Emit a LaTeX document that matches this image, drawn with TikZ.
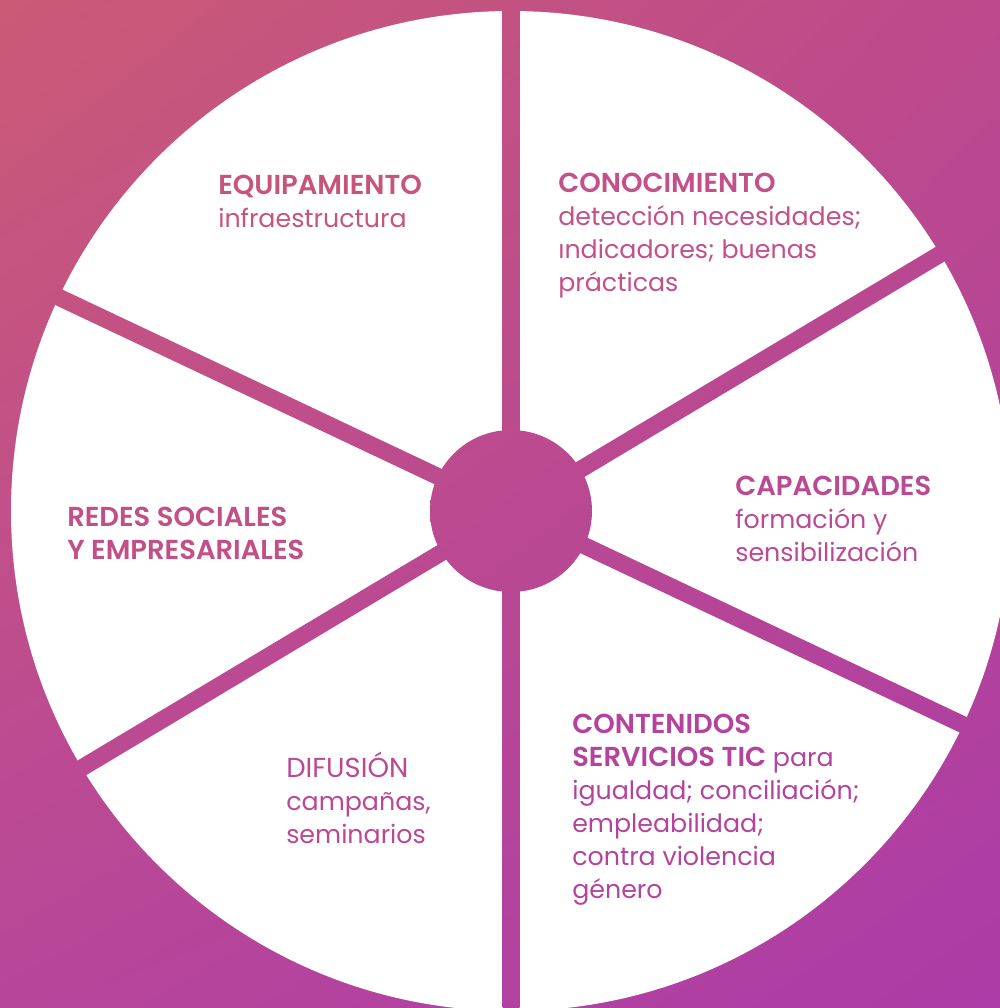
\documentclass[tikz,border=0pt]{standalone}
\usepackage{fontspec}
\setmainfont{Poppins}[BoldFont={* SemiBold}]
\usetikzlibrary{shadings}
\definecolor{bgtl}{HTML}{CB5A76}
\definecolor{bgtr}{HTML}{BC4A8C}
\definecolor{bgbl}{HTML}{B7469A}
\definecolor{bgbr}{HTML}{AC3CA7}
\definecolor{txtequip}{HTML}{C75579}
\definecolor{txtconoc}{HTML}{C4508A}
\definecolor{txtcapac}{HTML}{BA4A94}
\definecolor{txtredes}{HTML}{C24F86}
\definecolor{txtdifus}{HTML}{BC4894}
\definecolor{txtconte}{HTML}{B4439E}
\newcommand{\hd}[1]{{\fontsize{19.5}{23.5}\selectfont\bfseries #1}}
\tikzset{
	bg/.style={upper left=bgtl, upper right=bgtr, lower left=bgbl, lower right=bgbr},
	sectortext/.style={anchor=north west, align=left, inner sep=0pt,
		font=\fontsize{18}{23.5}\selectfont},
}
\begin{document}
\begin{tikzpicture}[x=0.025cm, y=-0.025cm]
			\useasboundingbox (0,0) rectangle (1000,1008);
			\clip (0,0) rectangle (1000,1008);
			\shade[bg] (0,0) rectangle (1000,1008);
			\fill[white] (511,511) circle (500);
			% spokes and hub let the background through
			\foreach \a in {90,30.9,-25.3}{
				\begin{scope}
					\clip[shift={(511,511)}, rotate=\a] (-800,-8.5) rectangle (800,8.5);
					\shade[bg] (0,0) rectangle (1000,1008);
				\end{scope}
			}
			\begin{scope}
				\clip (511,511) circle (81);
				\shade[bg] (0,0) rectangle (1000,1008);
			\end{scope}
			% sector texts
			\node[sectortext, text=txtequip] (equip) at (218,171)
				{\strut\hd{EQUIPAMIENTO}\\infraestructura};
			\node[sectortext, text=txtconoc] (conoc) at (558,169)
				{\strut\hd{CONOCIMIENTO}\\detección necesidades;\\ındicadores; buenas\\prácticas};
			\node[sectortext, text=txtcapac] (capac) at (735,472)
				{\strut\hd{CAPACIDADES}\\formación y\\sensibilización};
			\node[sectortext, text=txtredes] (redes) at (67,503)
				{\strut\hd{REDES SOCIALES}\\\hd{Y EMPRESARIALES}};
			\node[sectortext, text=txtdifus] (difus) at (286,752)
				{\strut{\fontsize{19.5}{23.5}\selectfont DIFUSIÓN}\\campañas,\\seminarios};
			\node[sectortext, text=txtconte] (conte) at (572,710)
				{\strut\hd{CONTENIDOS}\\\hd{SERVICIOS TIC} para\\igualdad; conciliación;\\empleabilidad;\\contra violencia\\género};
		\end{tikzpicture}
\end{document}
